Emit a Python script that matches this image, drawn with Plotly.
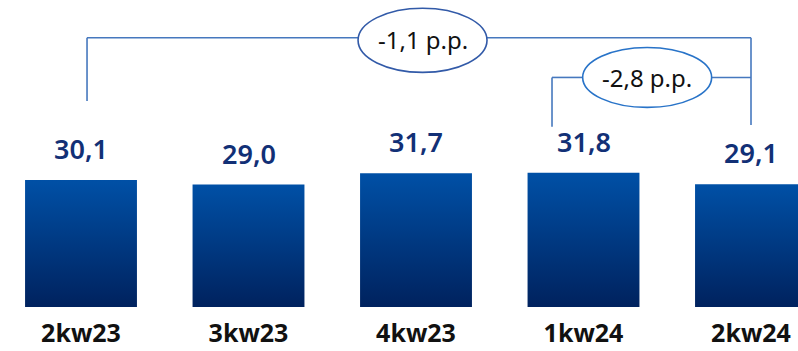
import plotly.graph_objects as go

categories = ["2kw23", "3kw23", "4kw23", "1kw24", "2kw24"]
values = [30.1, 29.0, 31.7, 31.8, 29.1]
value_labels = ["30,1", "29,0", "31,7", "31,8", "29,1"]
change_labels = ["-1,1 p.p.", "-2,8 p.p."]

TOP = "rgb(0,80,166)"
BOTTOM = "rgb(0,34,94)"
LABEL = "rgb(18,48,118)"
LINE = "rgb(70,120,190)"

HALF = 0.334
fig = go.Figure()
for i, v in enumerate(values):
    fig.add_trace(go.Scatter(
        x=[i - HALF, i - HALF, i + HALF, i + HALF, i - HALF],
        y=[0, v, v, 0, 0],
        mode="lines", fill="toself",
        line=dict(width=0),
        fillgradient=dict(type="vertical", colorscale=[[0, BOTTOM], [1, TOP]]),
        hoverinfo="skip", showlegend=False,
    ))
    fig.add_annotation(x=i, y=v, xref="x", yref="y", text=value_labels[i],
                       showarrow=False, yanchor="bottom", yshift=11,
                       font=dict(family="Noto Sans", size=27, color=LABEL, weight=600))

# brackets
lw = 1.6
def seg(x0, y0, x1, y1, color=LINE):
    fig.add_shape(type="line", xref="x", yref="y", x0=x0, y0=y0, x1=x1, y1=y1,
                  line=dict(color=color, width=lw))

seg(0.036, 48.8, 0.036, 63.8)
seg(0.036, 63.8, 1.654, 63.8)
seg(2.424, 63.8, 4.0, 63.8)
seg(4.0, 63.8, 4.0, 43.1)
seg(2.812, 42.7, 2.812, 54.4)
seg(2.812, 54.4, 2.995, 54.4)
seg(3.765, 54.4, 4.0, 54.4)

fig.add_shape(type="circle", xref="x", yref="y", x0=1.654, x1=2.424, y0=55.6, y1=70.8,
              line=dict(color="rgb(50,90,168)", width=1.6), fillcolor="white")
fig.add_shape(type="circle", xref="x", yref="y", x0=2.995, x1=3.765, y0=47.3, y1=61.5,
              line=dict(color="rgb(40,115,200)", width=1.6), fillcolor="white")
fig.add_annotation(x=2.039, y=63.3, xref="x", yref="y", text=change_labels[0], showarrow=False,
                   font=dict(family="Noto Sans", size=24, color="#111111"))
fig.add_annotation(x=3.38, y=54.4, xref="x", yref="y", text=change_labels[1], showarrow=False,
                   font=dict(family="Noto Sans", size=24, color="#111111"))

fig.update_layout(
    width=798, height=351,
    margin=dict(l=0, r=0, t=0, b=44),
    plot_bgcolor="white", paper_bgcolor="white",
    xaxis=dict(range=[-0.4836, 4.2806], tickvals=list(range(len(categories))),
               ticktext=categories, showgrid=False, zeroline=False, showline=False,
               ticks="", ticklabelstandoff=9,
               tickfont=dict(family="Noto Sans", size=25, color="#111111", weight="bold"),
               fixedrange=True),
    yaxis=dict(range=[0, 72.75], visible=False, showgrid=False, zeroline=False, fixedrange=True),
)
fig.write_html("out.html")
